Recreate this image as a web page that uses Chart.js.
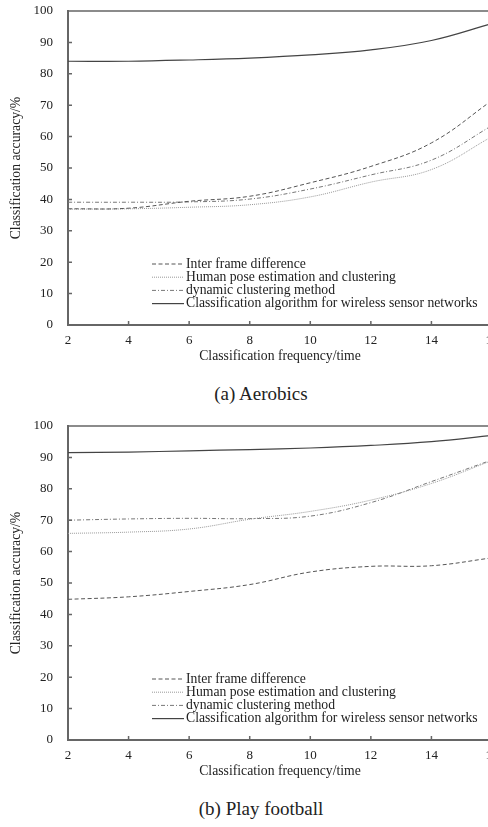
<!DOCTYPE html>
<html>
<head>
<meta charset="utf-8">
<script src="https://cdn.jsdelivr.net/npm/chart.js@4/dist/chart.umd.min.js"></script>
<style>
  html, body { margin: 0; padding: 0; background: #fff; overflow: hidden; }
  body { width: 488px; height: 827px; position: relative; }
  canvas { position: absolute; left: 0; }
  .cap { position: absolute; width: 522px; text-align: center; font-family: "Liberation Serif", "Times New Roman", serif; font-size: 19px; color: #222; }
</style>
</head>
<body>
<canvas id="c1" width="504" height="370" style="top:0"></canvas>
<div class="cap" style="top:383px">(a) Aerobics</div>
<canvas id="c2" width="504" height="370" style="top:415px"></canvas>
<div class="cap" style="top:798px">(b) Play football</div>
<script>
var freq = [2, 4, 6, 8, 10, 12, 14, 16];
var names = ['Inter frame difference', 'Human pose estimation and clustering', 'dynamic clustering method', 'Classification algorithm for wireless sensor networks'];

// (a) Aerobics
var aeroInter = [37, 37.2, 39.4, 41, 45.3, 50.5, 58, 71.5];
var aeroPose = [36.9, 37, 37.5, 38.3, 40.8, 45.5, 49.5, 60];
var aeroDynamic = [39.1, 39.1, 39.2, 40.1, 43.3, 47.8, 52.5, 63.5];
var aeroWsn = [84, 84, 84.4, 85, 86, 87.6, 90.6, 96];

// (b) Play football
var footInter = [44.8, 45.6, 47.3, 49.5, 53.5, 55.3, 55.5, 58];
var footPose = [65.8, 66.2, 67.2, 70.3, 72.8, 76.4, 81.7, 89];
var footDynamic = [70, 70.4, 70.6, 70.5, 71.3, 75.6, 82.3, 89.2];
var footWsn = [91.5, 91.7, 92.1, 92.5, 93, 93.8, 95, 97];

var serif = '"Liberation Serif", "Times New Roman", serif';
var styles = [
  {color: '#555', dash: [4, 2.5], width: 1},
  {color: '#999', dash: [1, 1], width: 1},
  {color: '#777', dash: [4, 2, 1, 2], width: 1},
  {color: '#444', dash: [], width: 1.2}
];

// axis frame + inner tick marks
var frame = {
  id: 'frame',
  afterDraw: function(chart) {
    var ctx = chart.ctx, a = chart.chartArea, x = chart.scales.x, y = chart.scales.y;
    ctx.save();
    ctx.strokeStyle = '#666';
    ctx.lineWidth = 1.5;
    ctx.beginPath();
    ctx.moveTo(a.left, a.top);
    ctx.lineTo(a.right + 10, a.top);
    for (var i = 1; i < x.ticks.length - 1; i++) {
      var px = x.getPixelForTick(i);
      ctx.moveTo(px, a.bottom);
      ctx.lineTo(px, a.bottom - 4);
    }
    for (var j = 1; j < y.ticks.length - 1; j++) {
      var py = y.getPixelForTick(j);
      ctx.moveTo(a.left, py);
      ctx.lineTo(a.left + 4, py);
    }
    ctx.stroke();
    ctx.restore();
  }
};

// legend drawn inside the plot
var innerLegend = {
  id: 'innerLegend',
  afterDraw: function(chart) {
    var ctx = chart.ctx, a = chart.chartArea;
    ctx.save();
    ctx.font = '13.7px ' + serif;
    ctx.fillStyle = '#222';
    ctx.textBaseline = 'middle';
    chart.data.datasets.forEach(function(ds, i) {
      var yy = a.bottom - 61 + i * 13.2;
      ctx.strokeStyle = ds.borderColor;
      ctx.lineWidth = ds.borderWidth;
      ctx.setLineDash(ds.borderDash);
      ctx.beginPath();
      ctx.moveTo(152, yy);
      ctx.lineTo(184, yy);
      ctx.stroke();
      ctx.setLineDash([]);
      ctx.fillText(ds.label, 186, yy);
    });
    ctx.restore();
  }
};

function makeChart(id, series) {
  return new Chart(document.getElementById(id), {
    type: 'line',
    data: {
      labels: freq,
      datasets: series.map(function(s, i) {
        return {
          label: names[i],
          data: s,
          borderColor: styles[i].color,
          borderDash: styles[i].dash,
          borderWidth: styles[i].width,
          pointRadius: 0,
          fill: false,
          tension: 0.4
        };
      })
    },
    options: {
      responsive: false,
      animation: false,
      layout: {padding: 0},
      plugins: {legend: {display: false}, tooltip: {enabled: false}},
      scales: {
        x: {
          grid: {display: false, drawTicks: false},
          border: {display: true, color: '#666', width: 2},
          ticks: {color: '#222', font: {family: serif, size: 13}, padding: 8, maxRotation: 0, autoSkip: false},
          title: {display: true, text: 'Classification frequency/time', color: '#222', font: {family: serif, size: 13.7}, padding: {top: 0, bottom: 5}},
          afterFit: function(s) { s.height = 45; s.paddingLeft = 0; s.paddingRight = 12; }
        },
        y: {
          min: 0, max: 100,
          grid: {display: false, drawTicks: false},
          border: {display: true, color: '#666', width: 2},
          ticks: {stepSize: 10, color: '#222', font: {family: serif, size: 13}, padding: 15},
          title: {display: true, text: 'Classification accuracy/%', color: '#222', font: {family: serif, size: 13.7}, padding: {top: 8, bottom: 0}},
          afterFit: function(s) { s.width = 68; s.paddingTop = 11; s.paddingBottom = 0; }
        }
      }
    },
    plugins: [frame, innerLegend]
  });
}

makeChart('c1', [aeroInter, aeroPose, aeroDynamic, aeroWsn]);
makeChart('c2', [footInter, footPose, footDynamic, footWsn]);
</script>
</body>
</html>
